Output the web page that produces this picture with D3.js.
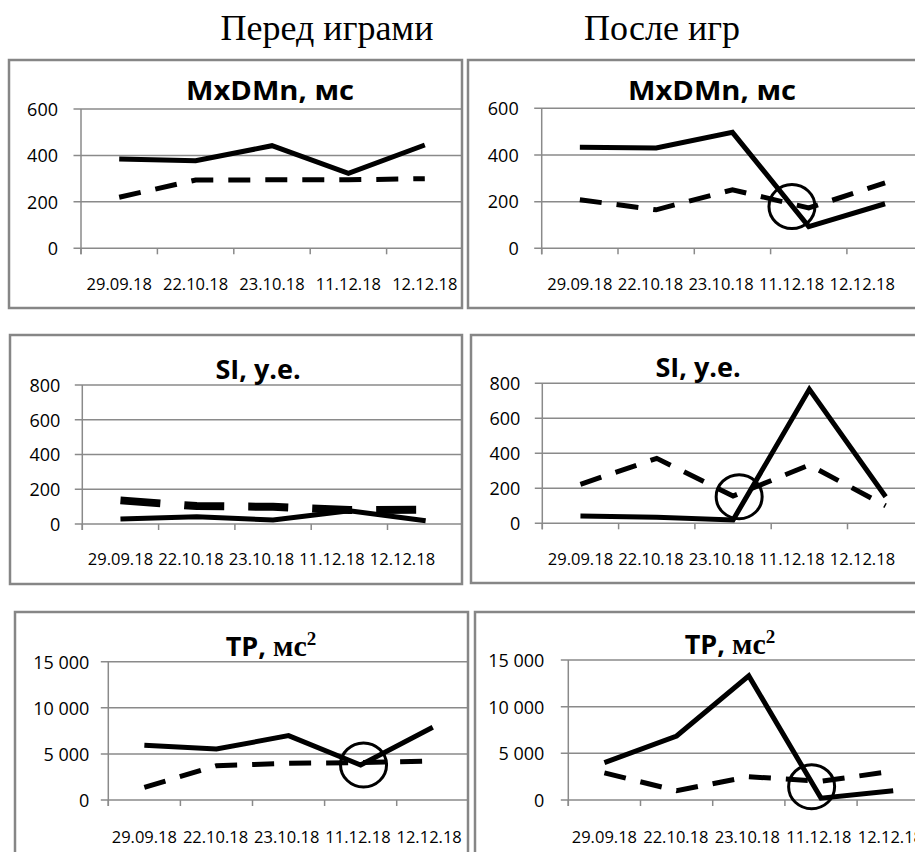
<!DOCTYPE html>
<html lang="ru">
<head>
    <meta charset="UTF-8">
    <title>Перед играми / После игр</title>
    <script src="https://d3js.org/d3.v7.min.js"></script>
    <style>
        body { margin: 0; background: #fff; }
    </style>
</head>
<body>
    <script>
        // Dates on the category axis
        const dates = ["29.09.18", "22.10.18", "23.10.18", "11.12.18", "12.12.18"];

        // Y tick values
        const mxdmnTicks = [0, 200, 400, 600];
        const siTicks = [0, 200, 400, 600, 800];
        const tpTicks = [0, 5000, 10000, 15000];

        // MxDMn, мс
        const mxdmnBeforeSolid = [385, 377, 442, 323, 445];
        const mxdmnBeforeDashed = [220, 294, 295, 295, 300];
        const mxdmnAfterSolid = [433, 430, 497, 93, 191];
        const mxdmnAfterDashed = [208, 165, 251, 173, 280];

        // SI, у.е.
        const siBeforeSolid = [29, 42, 23, 76, 19];
        const siBeforeDashed = [136, 103, 99, 80, 82];
        const siAfterSolid = [42, 34, 19, 766, 152];
        const siAfterDashed = [223, 371, 156, 333, 100];

        // TP, мс²
        const tpBeforeSolid = [5950, 5530, 6980, 3800, 7900];
        const tpBeforeDashed = [1370, 3720, 3980, 4050, 4230];
        const tpAfterSolid = [4000, 6860, 13300, 200, 1000];
        const tpAfterDashed = [2900, 1000, 2500, 2000, 3100];

        // circled crossings: [category position, value]
        const mxdmnAfterRing = [2.78, 179];
        const siAfterRing = [2.08, 152];
        const tpBeforeRing = [3.04, 3800];
        const tpAfterRing = [2.87, 1425];

        const svg = d3.select("body").append("svg")
            .attr("width", 915)
            .attr("height", 852);

        const defs = svg.append("defs");
        const fmt = d3.formatLocale({decimal: ",", thousands: " ", grouping: [3], currency: ["", ""]}).format(",d");

        // column headers
        svg.append("text")
            .attr("x", 327).attr("y", 40)
            .attr("text-anchor", "middle")
            .style("font-family", "'Liberation Serif', 'Times New Roman', serif")
            .style("font-size", "36px")
            .text("Перед играми");
        svg.append("text")
            .attr("x", 662).attr("y", 40)
            .attr("text-anchor", "middle")
            .style("font-family", "'Liberation Serif', 'Times New Roman', serif")
            .style("font-size", "36px")
            .text("После игр");

        // labelStep: spacing of the date labels (squeezed in some panels)
        const panels = [
            {title: "MxDMn, мс", solid: mxdmnBeforeSolid, dashed: mxdmnBeforeDashed, ticks: mxdmnTicks, ring: null,
             frame: [9, 60, 462, 308], x0: 81, step: 76.4, top: 109, bottom: 248.3,
             titleX: 270, titleY: 100, labelY: 290, labelGap: 23, labelStep: 76.4},
            {title: "MxDMn, мс", solid: mxdmnAfterSolid, dashed: mxdmnAfterDashed, ticks: mxdmnTicks, ring: mxdmnAfterRing,
             frame: [468, 60, 960, 308], x0: 541.7, step: 76.3, top: 108.3, bottom: 248.3,
             titleX: 712, titleY: 100, labelY: 290, labelGap: 23, labelStep: 70.6},
            {title: "SI, у.е.", solid: siBeforeSolid, dashed: siBeforeDashed, ticks: siTicks, ring: null,
             frame: [10, 335, 462, 584], x0: 82.3, step: 76.3, top: 385, bottom: 524,
             titleX: 258, titleY: 379, labelY: 565, labelGap: 22, labelStep: 70.5, dashWidth: 8, dash: "40,24"},
            {title: "SI, у.е.", solid: siAfterSolid, dashed: siAfterDashed, ticks: siTicks, ring: siAfterRing,
             frame: [471, 335, 960, 583], x0: 542.3, step: 76.3, top: 383.3, bottom: 523.3,
             titleX: 698, titleY: 377, labelY: 565, labelGap: 22, labelStep: 70.5},
            {title: "TP", solid: tpBeforeSolid, dashed: tpBeforeDashed, ticks: tpTicks, ring: tpBeforeRing,
             frame: [15, 612, 468, 900], x0: 108.3, step: 72.1, top: 661.7, bottom: 800,
             titleX: 271, titleY: 656, labelY: 843, labelGap: 19, labelStep: 71.2},
            {title: "TP", solid: tpAfterSolid, dashed: tpAfterDashed, ticks: tpTicks, ring: tpAfterRing,
             frame: [475, 612, 960, 900], x0: 568.3, step: 72.2, top: 660, bottom: 800,
             titleX: 730, titleY: 654, labelY: 843, labelGap: 24, labelStep: 71.5}
        ];

        panels.forEach((p, i) => drawPanel(p, i));

        function drawPanel(p, i) {
            const [fx1, fy1, fx2, fy2] = p.frame;

            defs.append("clipPath").attr("id", "clip" + i)
                .append("rect")
                .attr("x", fx1).attr("y", fy1)
                .attr("width", fx2 - fx1).attr("height", fy2 - fy1);

            const g = svg.append("g").attr("clip-path", `url(#clip${i})`);

            const x = d3.scaleBand()
                .domain(dates)
                .range([p.x0, p.x0 + dates.length * p.step]);
            const cx = d => x(d) + x.bandwidth() / 2;
            const y = d3.scaleLinear()
                .domain([0, d3.max(p.ticks)])
                .range([p.bottom, p.top]);
            const ringX = d3.scaleLinear()
                .domain([0, dates.length - 1])
                .range([cx(dates[0]), cx(dates[dates.length - 1])]);
            const labelX = d3.scalePoint()
                .domain(dates)
                .range([cx(dates[0]), cx(dates[0]) + (dates.length - 1) * p.labelStep]);

            const grey = "#8a8a8a";

            // gridlines with small outside ticks
            g.selectAll("line.grid")
                .data(p.ticks)
                .join("line")
                .attr("class", "grid")
                .attr("x1", p.x0 - 7.5)
                .attr("x2", x.range()[1])
                .attr("y1", d => y(d))
                .attr("y2", d => y(d))
                .attr("stroke", grey)
                .attr("stroke-width", 1.5);

            // vertical axis
            g.append("line")
                .attr("x1", p.x0).attr("x2", p.x0)
                .attr("y1", y(d3.max(p.ticks)))
                .attr("y2", y(0) + 6)
                .attr("stroke", grey)
                .attr("stroke-width", 1.5);

            // category boundary ticks
            g.selectAll("line.ctick")
                .data(dates.map(d => x(d)).concat([x.range()[1]]))
                .join("line")
                .attr("class", "ctick")
                .attr("x1", d => d).attr("x2", d => d)
                .attr("y1", y(0)).attr("y2", y(0) + 6)
                .attr("stroke", grey)
                .attr("stroke-width", 1.5);

            // y labels
            g.selectAll("text.ylab")
                .data(p.ticks)
                .join("text")
                .attr("class", "ylab")
                .attr("x", p.x0 - p.labelGap)
                .attr("y", d => y(d))
                .attr("dy", "0.38em")
                .attr("text-anchor", "end")
                .style("font-family", "'Open Sans', sans-serif")
                .style("font-size", "18px")
                .text(d => fmt(d));

            // x labels
            g.selectAll("text.xlab")
                .data(dates)
                .join("text")
                .attr("class", "xlab")
                .attr("x", d => labelX(d))
                .attr("y", p.labelY)
                .attr("text-anchor", "middle")
                .style("font-family", "'Open Sans', sans-serif")
                .style("font-size", "16.5px")
                .text(d => d);

            // title
            const t = g.append("text")
                .attr("x", p.titleX)
                .attr("y", p.titleY)
                .attr("text-anchor", "middle")
                .style("font-family", "'Open Sans', sans-serif")
                .style("font-weight", "bold")
                .style("font-size", "27px");
            if (p.title === "TP") {
                t.append("tspan").text("TP, ");
                t.append("tspan")
                    .style("font-family", "'Liberation Serif', 'Times New Roman', serif")
                    .style("font-size", "30px")
                    .text("мс");
                t.append("tspan")
                    .attr("dy", -11)
                    .style("font-family", "'Liberation Serif', 'Times New Roman', serif")
                    .style("font-size", "19px")
                    .text("2");
            } else {
                t.text(p.title);
                if (p.title.startsWith("MxDMn")) {
                    t.attr("textLength", 168).attr("lengthAdjust", "spacingAndGlyphs");
                }
            }

            const line = d3.line()
                .x((v, k) => cx(dates[k]))
                .y(v => y(v));

            g.append("path")
                .datum(p.dashed)
                .attr("d", line)
                .attr("fill", "none")
                .attr("stroke", "#000")
                .attr("stroke-width", p.dashWidth || 5)
                .attr("stroke-dasharray", p.dash || "22,15")
                .attr("stroke-linejoin", "miter");

            g.append("path")
                .datum(p.solid)
                .attr("d", line)
                .attr("fill", "none")
                .attr("stroke", "#000")
                .attr("stroke-width", 5)
                .attr("stroke-linejoin", "miter");

            if (p.ring) {
                g.append("ellipse")
                    .attr("cx", ringX(p.ring[0]))
                    .attr("cy", y(p.ring[1]))
                    .attr("rx", 23)
                    .attr("ry", 22)
                    .attr("fill", "none")
                    .attr("stroke", "#000")
                    .attr("stroke-width", 3);
            }

            // frame
            svg.append("rect")
                .attr("x", fx1).attr("y", fy1)
                .attr("width", fx2 - fx1).attr("height", fy2 - fy1)
                .attr("fill", "none")
                .attr("stroke", "#868686")
                .attr("stroke-width", 2.5);
        }
    </script>
</body>
</html>
